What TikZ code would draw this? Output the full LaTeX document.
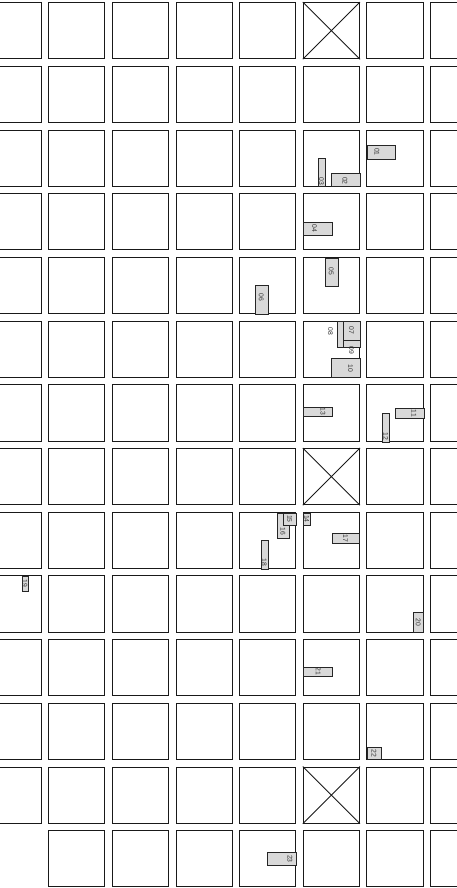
\documentclass[tikz,border=0pt]{standalone}
\usepackage{fontspec}
\usepackage{tikz}
\usetikzlibrary{positioning}
\newfontfamily\tagfont{Liberation Sans}

% pallet: id, x, y (top left), width, height, label x, label y
\newcommand{\pallet}[7]{%
  \node[pallet, minimum width=#4pt, minimum height=#5pt] (p#1) at (#2,#3) {};
  \node[tag] (t#1) at (#6,#7) {#1};
}

\begin{document}
\begin{tikzpicture}[
    x=1pt, y=-1pt,
    cell/.style={rectangle, draw=black!90, line width=1pt, minimum size=56.2pt, inner sep=0pt},
    pallet/.style={rectangle, draw=black!85, fill=gray!30, line width=0.9pt, inner sep=0pt, anchor=north west},
    tag/.style={font=\tagfont\fontsize{6.8}{7}\selectfont, text=black!80, inner sep=0pt, rotate=-90}
]
\useasboundingbox (0,0) rectangle (456,888);

% Bays
\foreach \r in {0,...,12}{
  \foreach \c in {0,...,7}{
    \node[cell] (c-\r-\c) at ({13.15+63.65*\c}, {30.7+63.7*\r}) {};
  }
}
\foreach \c in {1,...,7}{
  \node[cell] (c-13-\c) at ({13.15+63.65*\c}, {30.7+63.7*13}) {};
}

% Pillars
\foreach \r in {0,7,12}{
  \draw[black!90, line width=0.9pt] (c-\r-5.north west) -- (c-\r-5.south east)
    (c-\r-5.north east) -- (c-\r-5.south west);
}

% Pallets
\pallet{01}{366.5}{145}{28.2}{13.7}{377}{151.8}
\pallet{02}{331}{173.3}{28.5}{13.1}{345}{181}
\pallet{03}{317.6}{158.4}{7.7}{28}{321.5}{181.5}
\pallet{04}{303.3}{221.7}{28.3}{13.3}{314.5}{228.3}
\pallet{05}{324.7}{257.5}{13}{28.5}{331.2}{271.5}
\pallet{06}{254.7}{285.3}{13}{28.5}{261.2}{297.5}
\pallet{08}{336.7}{321.2}{7.6}{26}{330.5}{331}
\pallet{07}{343.3}{321.2}{16.2}{19}{351.4}{330.5}
\pallet{09}{343.3}{340}{16.2}{7}{351.4}{350}
\pallet{10}{331}{357.8}{28.5}{19.4}{350.5}{368}
\pallet{11}{395}{408.3}{28.8}{10}{414}{413.3}
\pallet{12}{382.3}{412.7}{7}{29}{385.8}{436.5}
\pallet{13}{303.3}{406.5}{28.4}{9.5}{323}{411.2}
\pallet{14}{303.3}{512.7}{6.7}{12.3}{306.7}{518.8}
\pallet{16}{276.7}{512.7}{12.7}{25.7}{283}{531}
\pallet{15}{283.3}{512.7}{12.7}{12.3}{289.7}{518.8}
\pallet{17}{331.7}{533.3}{27.7}{10}{345.5}{538.3}
\pallet{18}{260.7}{540}{7}{28.5}{264.2}{562}
\pallet{19}{21.7}{575.8}{6.7}{15}{25}{583.3}
\pallet{20}{413.3}{612.3}{10}{19.3}{418.3}{622}
\pallet{21}{303.3}{667.3}{28.3}{8.7}{318.3}{671.7}
\pallet{22}{367.3}{746.7}{13.7}{12.7}{374}{753}
\pallet{23}{267.3}{852.3}{28.3}{13}{290}{858.8}

\end{tikzpicture}
\end{document}
